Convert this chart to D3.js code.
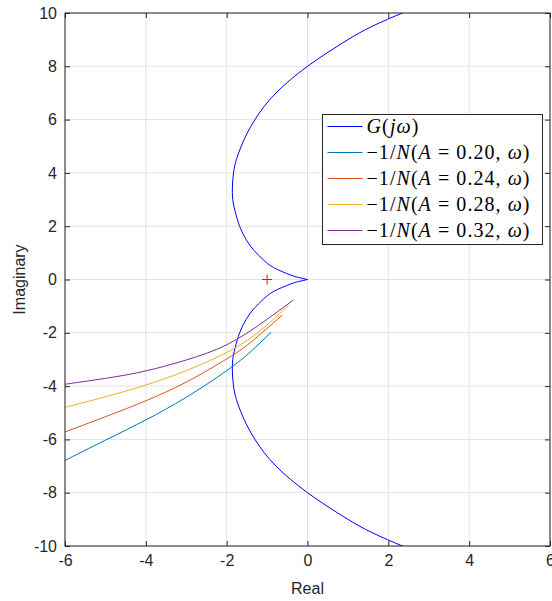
<!DOCTYPE html>
<html>
<head>
<meta charset="utf-8">
<script src="https://cdn.jsdelivr.net/npm/d3@7"></script>
<style>
  body { margin: 0; background: #fff; }
  text { font-family: "Liberation Sans", Arial, sans-serif; }
</style>
</head>
<body>
<div id="chart"></div>
<script>
// Dimensioni della figura
const width = 552;
const height = 601;
const margin = { top: 13, right: 2, bottom: 55, left: 65 };

// Tick degli assi
const xTicks = [-6, -4, -2, 0, 2, 4, 6];
const yTicks = [-10, -8, -6, -4, -2, 0, 2, 4, 6, 8, 10];

// Curva di Nyquist G(jw), ramo superiore (w > 0) e ramo inferiore (w < 0)
const gUpReal = [2.85, 2.35, 1.6, 1.0, 0.48, 0, -0.42, -0.78, -1.07, -1.3, -1.49, -1.64, -1.76, -1.83, -1.86, -1.84, -1.78, -1.68, -1.52, -1.33, -1.1, -0.84, -0.42, -0.2, 0];
const gUpImag = [10.3, 10.0, 9.5, 9.0, 8.5, 8.0, 7.5, 7.0, 6.5, 6.0, 5.5, 5.0, 4.5, 4.0, 3.4, 2.9, 2.5, 2.0, 1.5, 1.1, 0.75, 0.45, 0.17, 0.07, 0];
const gLowReal = [0, -0.2, -0.42, -0.84, -1.1, -1.33, -1.52, -1.68, -1.78, -1.84, -1.86, -1.83, -1.76, -1.64, -1.49, -1.3, -1.07, -0.78, -0.42, 0, 0.48, 1.0, 1.6, 2.35, 2.85];
const gLowImag = [0, -0.07, -0.17, -0.45, -0.75, -1.1, -1.5, -2.0, -2.5, -2.9, -3.4, -4.0, -4.5, -5.0, -5.5, -6.0, -6.5, -7.0, -7.5, -8.0, -8.5, -9.0, -9.5, -10.0, -10.3];

// Luoghi -1/N(A, w) per diverse ampiezze
const amplitudes = ["0.20", "0.24", "0.28", "0.32"];
const nReal = [
  [-6.2, -6, -5, -4, -3, -2, -1.4, -0.9],
  [-6.2, -6, -5, -4, -3, -2, -1.4, -0.62],
  [-6.2, -6, -5, -4, -3, -2, -1.2, -0.47],
  [-6.2, -6, -5, -4, -3, -2, -1.1, -0.35]
];
const nImag = [
  [-6.94, -6.79, -6.03, -5.27, -4.42, -3.42, -2.7, -1.98],
  [-5.83, -5.72, -5.15, -4.55, -3.85, -2.98, -2.35, -1.33],
  [-4.88, -4.8, -4.4, -3.96, -3.42, -2.74, -1.96, -0.96],
  [-3.97, -3.93, -3.71, -3.43, -3.02, -2.45, -1.6, -0.77]
];
const nColors = ["#0072BD", "#D95319", "#EDB120", "#7E2F8E"];

// Punto critico -1 + j0
const critical = [-1, 0];

const svg = d3.select("#chart")
  .append("svg")
  .attr("width", width)
  .attr("height", height);

const x = d3.scaleLinear().domain([-6, 6]).range([margin.left, 550]);
const y = d3.scaleLinear().domain([-10, 10]).range([height - margin.bottom, margin.top]);

// Griglia
svg.append("g")
  .selectAll("line")
  .data(xTicks)
  .enter().append("line")
  .attr("x1", d => x(d)).attr("x2", d => x(d))
  .attr("y1", y(-10)).attr("y2", y(10))
  .attr("stroke", "#e3e3e3");

svg.append("g")
  .selectAll("line")
  .data(yTicks)
  .enter().append("line")
  .attr("x1", x(-6)).attr("x2", x(6))
  .attr("y1", d => y(d)).attr("y2", d => y(d))
  .attr("stroke", "#e3e3e3");

// Clip per le curve
svg.append("clipPath").attr("id", "clip")
  .append("rect")
  .attr("x", x(-6)).attr("y", y(10))
  .attr("width", x(6) - x(-6)).attr("height", y(-10) - y(10));

const plot = svg.append("g").attr("clip-path", "url(#clip)");

const line = d3.line()
  .x(d => x(d[0]))
  .y(d => y(d[1]))
  .curve(d3.curveNatural);

// Curva G(jw): due rami che si uniscono nell'origine
[[gUpReal, gUpImag], [gLowReal, gLowImag]].forEach(([re, im]) => {
  plot.append("path")
    .attr("d", line(re.map((r, i) => [r, im[i]])))
    .attr("fill", "none")
    .attr("stroke", "#0000ff")
    .attr("stroke-width", 1);
});

// Curve -1/N
nReal.forEach((re, k) => {
  plot.append("path")
    .attr("d", line(re.map((r, i) => [r, nImag[k][i]])))
    .attr("fill", "none")
    .attr("stroke", nColors[k])
    .attr("stroke-width", 1);
});

// Marcatore del punto critico
const cx = x(critical[0]), cy = y(critical[1]);
svg.append("path")
  .attr("d", `M${cx - 5},${cy}H${cx + 5}M${cx},${cy - 5}V${cy + 5}`)
  .attr("stroke", "#ff0000")
  .attr("stroke-width", 1);

// Assi (riquadro con tick interni)
const axisColor = "#262626";
svg.append("g")
  .attr("transform", `translate(0,${y(-10)})`)
  .call(d3.axisBottom(x).tickValues(xTicks).tickSize(-5).tickPadding(9).tickFormat(d3.format("d")))
  .call(g => g.select(".domain").remove());
svg.append("g")
  .attr("transform", `translate(0,${y(10)})`)
  .call(d3.axisTop(x).tickValues(xTicks).tickSize(-5).tickFormat(""))
  .call(g => g.select(".domain").remove());
svg.append("g")
  .attr("transform", `translate(${x(-6)},0)`)
  .call(d3.axisLeft(y).tickValues(yTicks).tickSize(-5).tickPadding(8).tickFormat(d3.format("d")))
  .call(g => g.select(".domain").remove());
svg.append("g")
  .attr("transform", `translate(${x(6)},0)`)
  .call(d3.axisRight(y).tickValues(yTicks).tickSize(-5).tickFormat(""))
  .call(g => g.select(".domain").remove());

svg.selectAll(".tick line").attr("stroke", axisColor);
svg.selectAll(".tick text")
  .attr("fill", axisColor)
  .style("font-size", "16px")
  .style("font-family", "'Liberation Sans', Arial, sans-serif")
  .text(function() { return d3.select(this).text().replace("−", "-"); });

svg.append("rect")
  .attr("x", x(-6)).attr("y", y(10))
  .attr("width", x(6) - x(-6)).attr("height", y(-10) - y(10))
  .attr("fill", "none")
  .attr("stroke", axisColor)
  .attr("stroke-width", 1);

// Etichette degli assi
svg.append("text")
  .attr("x", x(0)).attr("y", 594)
  .attr("text-anchor", "middle")
  .attr("fill", axisColor)
  .style("font-size", "16px")
  .text("Real");

svg.append("text")
  .attr("transform", `translate(25,${y(0)}) rotate(-90)`)
  .attr("text-anchor", "middle")
  .attr("fill", axisColor)
  .style("font-size", "16px")
  .text("Imaginary");

// Legenda
const legend = svg.append("g").attr("transform", "translate(322.5,114.5)");
legend.append("rect")
  .attr("width", 220).attr("height", 130)
  .attr("fill", "#fff")
  .attr("stroke", axisColor);

const rows = [{ color: "#0000ff", len: 52, parts: [["G", true], ["(", false], ["j", true], ["ω", true], [")", false]] }]
  .concat(amplitudes.map((a, k) => ({
    color: nColors[k],
    len: 163,
    parts: [["−1/", false], ["N", true], ["(", false], ["A", true], [` = ${a}, `, false], ["ω", true], [")", false]]
  })));

rows.forEach((r, i) => {
  const ry = 12 + i * 26;
  legend.append("line")
    .attr("x1", 5).attr("x2", 40)
    .attr("y1", ry).attr("y2", ry)
    .attr("stroke", r.color);
  const t = legend.append("text")
    .attr("x", 44).attr("y", ry + 6)
    .attr("fill", "#000")
    .attr("textLength", r.len)
    .attr("lengthAdjust", "spacing")
    .style("font-family", "'Liberation Serif', 'DejaVu Serif', serif")
    .style("font-size", "20px");
  r.parts.forEach(p => {
    t.append("tspan")
      .style("font-style", p[1] ? "italic" : "normal")
      .text(p[0]);
  });
});
</script>
</body>
</html>
